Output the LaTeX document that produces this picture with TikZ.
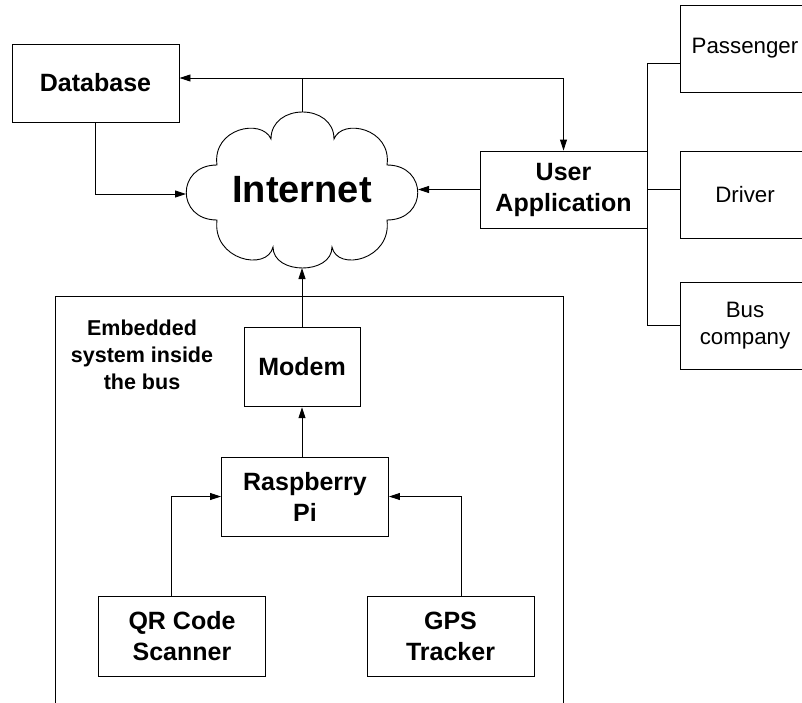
\documentclass[tikz,border=0pt]{standalone}
\usepackage{fontspec}
\setmainfont{Liberation Sans}
\usetikzlibrary{arrows.meta}
\begin{document}
\begin{tikzpicture}[x=1pt,y=-1pt,line width=0.9pt,
  box/.style={draw,rectangle,inner sep=0pt,align=center,font=\fontsize{25}{31}\selectfont\bfseries},
  rbox/.style={draw,rectangle,inner sep=0pt,align=center,minimum width=130pt,minimum height=87pt,font=\fontsize{22.3}{27}\selectfont},
  arr/.style={-{Triangle[length=11pt,width=7pt]}}]
\useasboundingbox (0,0) rectangle (802,702);
\clip (0,0) rectangle (802,702);
% embedded system frame
\draw (55,720) -- (55,296) -- (563,296) -- (563,720);
\node[align=center,font=\fontsize{21.5}{27}\selectfont\bfseries] (emb) at (142,355) {Embedded\\system inside\\the bus};
% boxes
\node[box,minimum width=167pt,minimum height=78pt] (db) at (95.5,83) {Database};
\node[box,minimum width=167pt,minimum height=77pt] (ua) at (563.5,189.5) {User\\Application};
\node[rbox] (pass) at (745,48.5) {Passenger};
\node[rbox] (drv) at (745,194.5) {Driver};
\node[rbox] (bus) at (745,325.5) {Bus\\company};
\node[box,minimum width=116pt,minimum height=79.5pt] (modem) at (302,367) {Modem};
\node[box,minimum width=167pt,minimum height=79pt] (rpi) at (305,496.5) {Raspberry\\Pi};
\node[box,minimum width=167pt,minimum height=80pt] (qr) at (182,636) {QR Code\\Scanner};
\node[box,minimum width=167pt,minimum height=80pt] (gps) at (450.5,636) {GPS\\Tracker};
% cloud
\begin{scope}[shift={(302,190)}]
\draw (-31,-51) .. controls (-31,-87) and (32,-87) .. (32,-51)
  .. controls (40,-72) and (90,-62) .. (85,-25)
  .. controls (126,-25) and (126,30) .. (85,30)
  .. controls (90,70) and (35,82) .. (30,57)
  .. controls (30,85) and (-29,85) .. (-29,57)
  .. controls (-35,82) and (-90,70) .. (-85,30)
  .. controls (-126,30) and (-126,-25) .. (-85,-25)
  .. controls (-90,-62) and (-40,-72) .. (-31,-51) -- cycle;
\end{scope}
\node[font=\fontsize{38}{44}\selectfont\bfseries] (inet) at (302,190) {Internet};
\coordinate (ctop) at (302,112);
\coordinate (cbot) at (302,268);
\coordinate (cleft) at (186,194);
\coordinate (cright) at (418,189.5);
% connectors
\coordinate (j) at (302,78);
\draw (ctop) -- (j);
\draw[arr] (j) -- (db.east |- j);
\draw[arr] (j) -| (ua.north);
\draw[arr] (db.south) |- (cleft);
\draw[arr] (ua.west) -- (cright);
\coordinate (t1) at (647,63);
\coordinate (t3) at (647,325);
\draw (pass.west |- t1) -- (t1) -- (t3) -- (bus.west |- t3);
\draw (ua.east) -- (drv.west |- ua.east);
\draw[arr] (modem.north) -- (cbot);
\coordinate (rtop) at (302,457);
\draw[arr] (rtop) -- (modem.south);
\coordinate (qtop) at (171,596);
\coordinate (gtop) at (461,596);
\draw[arr] (qtop) |- (rpi.west);
\draw[arr] (gtop) |- (rpi.east);
\end{tikzpicture}
\end{document}
